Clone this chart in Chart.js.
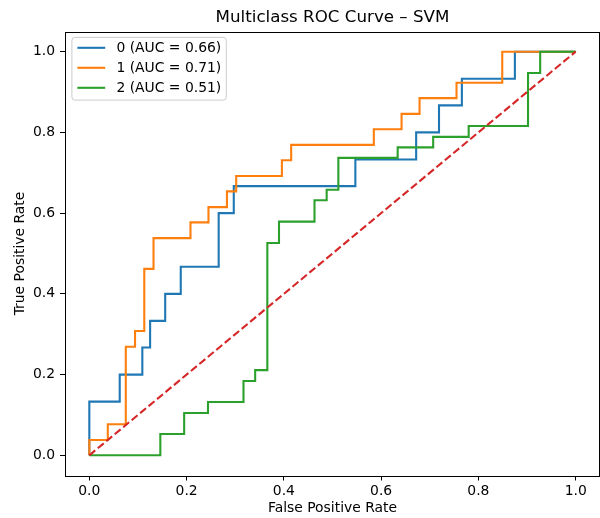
<!DOCTYPE html>
<html>
<head>
<meta charset="utf-8">
<script src="https://cdn.jsdelivr.net/npm/chart.js@4/dist/chart.umd.min.js"></script>
<style>
  html, body { margin: 0; padding: 0; background: #fff; }
  #wrap { width: 600px; height: 518px; }
</style>
</head>
<body>
<div id="wrap"><canvas id="c" width="600" height="518"></canvas></div>
<script>
const titleText = "Multiclass ROC Curve \u2013 SVM";
const xTitle = "False Positive Rate";
const yTitle = "True Positive Rate";
const xTicks = [0.0, 0.2, 0.4, 0.6, 0.8, 1.0];
const yTicks = [0.0, 0.2, 0.4, 0.6, 0.8, 1.0];

const classLabels = ["0 (AUC = 0.66)", "1 (AUC = 0.71)", "2 (AUC = 0.51)"];

const fpr0 = [0, 0, 0.0625, 0.0625, 0.109, 0.109, 0.125, 0.125, 0.156, 0.156, 0.188, 0.188, 0.266, 0.266, 0.297, 0.297, 0.547, 0.547, 0.672, 0.672, 0.719, 0.719, 0.766, 0.766, 0.875, 0.875, 1.0];
const tpr0 = [0, 0.133, 0.133, 0.2, 0.2, 0.267, 0.267, 0.333, 0.333, 0.4, 0.4, 0.467, 0.467, 0.6, 0.6, 0.667, 0.667, 0.733, 0.733, 0.8, 0.8, 0.867, 0.867, 0.933, 0.933, 1.0, 1.0];

const fpr1 = [0, 0, 0.038, 0.038, 0.075, 0.075, 0.094, 0.094, 0.113, 0.113, 0.132, 0.132, 0.208, 0.208, 0.245, 0.245, 0.283, 0.283, 0.302, 0.302, 0.396, 0.396, 0.415, 0.415, 0.585, 0.585, 0.642, 0.642, 0.679, 0.679, 0.755, 0.755, 0.849, 0.849, 1.0];
const tpr1 = [0, 0.038, 0.038, 0.077, 0.077, 0.269, 0.269, 0.308, 0.308, 0.462, 0.462, 0.538, 0.538, 0.577, 0.577, 0.615, 0.615, 0.654, 0.654, 0.692, 0.692, 0.731, 0.731, 0.769, 0.769, 0.808, 0.808, 0.846, 0.846, 0.885, 0.885, 0.923, 0.923, 1.0, 1.0];

const fpr2 = [0, 0.146, 0.146, 0.195, 0.195, 0.244, 0.244, 0.317, 0.317, 0.341, 0.341, 0.366, 0.366, 0.390, 0.390, 0.463, 0.463, 0.488, 0.488, 0.512, 0.512, 0.634, 0.634, 0.707, 0.707, 0.780, 0.780, 0.902, 0.902, 0.927, 0.927, 1.0];
const tpr2 = [0, 0, 0.053, 0.053, 0.105, 0.105, 0.132, 0.132, 0.184, 0.184, 0.211, 0.211, 0.526, 0.526, 0.579, 0.579, 0.632, 0.632, 0.658, 0.658, 0.737, 0.737, 0.763, 0.763, 0.789, 0.789, 0.816, 0.816, 0.947, 0.947, 1.0, 1.0];

const diagX = [0, 1];
const diagY = [0, 1];

const FONT = "'DejaVu Sans', 'Liberation Sans', sans-serif";
const toPts = (xs, ys) => xs.map((x, i) => ({ x: x, y: ys[i] }));

const frame = {
  id: 'frame',
  afterDatasetsDraw(chart) {
    const { ctx, chartArea: a } = chart;
    ctx.save();
    ctx.strokeStyle = '#000';
    ctx.lineWidth = 1;
    ctx.strokeRect(Math.round(a.left) + 0.5, Math.round(a.top) + 0.5, Math.round(a.right - a.left) - 1, Math.round(a.bottom - a.top));
    ctx.restore();
  }
};

const mplTitle = {
  id: 'mplTitle',
  afterDraw(chart) {
    const { ctx, chartArea: a } = chart;
    ctx.save();
    ctx.font = "16.7px " + FONT;
    ctx.fillStyle = '#000';
    ctx.textAlign = 'center';
    ctx.textBaseline = 'middle';
    ctx.fillText(titleText, (a.left + a.right) / 2, 17.5);
    ctx.restore();
  }
};

const mplLegend = {
  id: 'mplLegend',
  afterDraw(chart) {
    const { ctx, chartArea: a } = chart;
    const items = chart.data.datasets.filter(d => d.label);
    ctx.save();
    ctx.font = "13.9px " + FONT;
    let maxW = 0;
    items.forEach(d => { maxW = Math.max(maxW, ctx.measureText(d.label).width); });
    const bx = a.left + 6.9, by = a.top + 5.9;
    const textX = bx + 44.5;
    const bw = textX + maxW + 5 - bx;
    const bh = 62.7;
    const r = 3;
    ctx.beginPath();
    ctx.moveTo(bx + r, by);
    ctx.lineTo(bx + bw - r, by);
    ctx.arcTo(bx + bw, by, bx + bw, by + r, r);
    ctx.lineTo(bx + bw, by + bh - r);
    ctx.arcTo(bx + bw, by + bh, bx + bw - r, by + bh, r);
    ctx.lineTo(bx + r, by + bh);
    ctx.arcTo(bx, by + bh, bx, by + bh - r, r);
    ctx.lineTo(bx, by + r);
    ctx.arcTo(bx, by, bx + r, by, r);
    ctx.closePath();
    ctx.fillStyle = 'rgba(255,255,255,0.8)';
    ctx.fill();
    ctx.strokeStyle = '#cccccc';
    ctx.lineWidth = 1;
    ctx.stroke();
    items.forEach((d, i) => {
      const y = by + 10.4 + i * 20;
      ctx.beginPath();
      ctx.strokeStyle = d.borderColor;
      ctx.lineWidth = 2.1;
      ctx.moveTo(bx + 5.5, y);
      ctx.lineTo(bx + 33.3, y);
      ctx.stroke();
      ctx.fillStyle = '#000';
      ctx.textAlign = 'left';
      ctx.textBaseline = 'middle';
      ctx.fillText(d.label, textX, y + 0.5);
    });
    ctx.restore();
  }
};

const lineDs = (label, xs, ys, color, order) => ({
  label: label,
  data: toPts(xs, ys),
  borderColor: color,
  backgroundColor: color,
  borderWidth: 2.1,
  pointRadius: 0,
  showLine: true,
  fill: false,
  tension: 0,
  order: order
});

const diag = lineDs('', diagX, diagY, '#d62728', 0);
diag.borderDash = [7.7, 3.3];

new Chart(document.getElementById('c'), {
  type: 'scatter',
  data: {
    datasets: [
      lineDs(classLabels[0], fpr0, tpr0, '#1f77b4', 3),
      lineDs(classLabels[1], fpr1, tpr1, '#ff7f0e', 2),
      lineDs(classLabels[2], fpr2, tpr2, '#2ca02c', 1),
      diag
    ]
  },
  options: {
    responsive: false,
    animation: false,
    devicePixelRatio: 1,
    layout: { padding: { top: 31.5, left: 0, right: 0, bottom: 0 } },
    plugins: {
      legend: { display: false },
      title: { display: false },
      tooltip: { enabled: false }
    },
    scales: {
      x: {
        type: 'linear',
        min: -0.05,
        max: 1.05,
        afterFit(scale) { scale.height = 42.5; },
        afterBuildTicks(scale) { scale.ticks = xTicks.map(v => ({ value: v })); },
        border: { display: false },
        grid: { display: true, drawOnChartArea: false, drawTicks: true, tickLength: 5, color: '#000', lineWidth: 1 },
        ticks: {
          color: '#000',
          padding: 3,
          maxRotation: 0,
          font: { family: FONT, size: 13.9 },
          callback: v => Number(v).toFixed(1)
        },
        title: { display: true, text: xTitle, color: '#000', font: { family: FONT, size: 13.9 }, padding: { top: 0, bottom: 1 } }
      },
      y: {
        type: 'linear',
        min: -0.05,
        max: 1.05,
        afterFit(scale) { scale.width = 65; },
        afterBuildTicks(scale) { scale.ticks = yTicks.map(v => ({ value: v })); },
        border: { display: false },
        grid: { display: true, drawOnChartArea: false, drawTicks: true, tickLength: 5, color: '#000', lineWidth: 1 },
        ticks: {
          color: '#000',
          padding: 5,
          font: { family: FONT, size: 13.9 },
          callback: v => Number(v).toFixed(1)
        },
        title: { display: true, text: yTitle, color: '#000', font: { family: FONT, size: 13.9 }, padding: { top: 12, bottom: 0 } }
      }
    }
  },
  plugins: [frame, mplTitle, mplLegend]
});
</script>
</body>
</html>
